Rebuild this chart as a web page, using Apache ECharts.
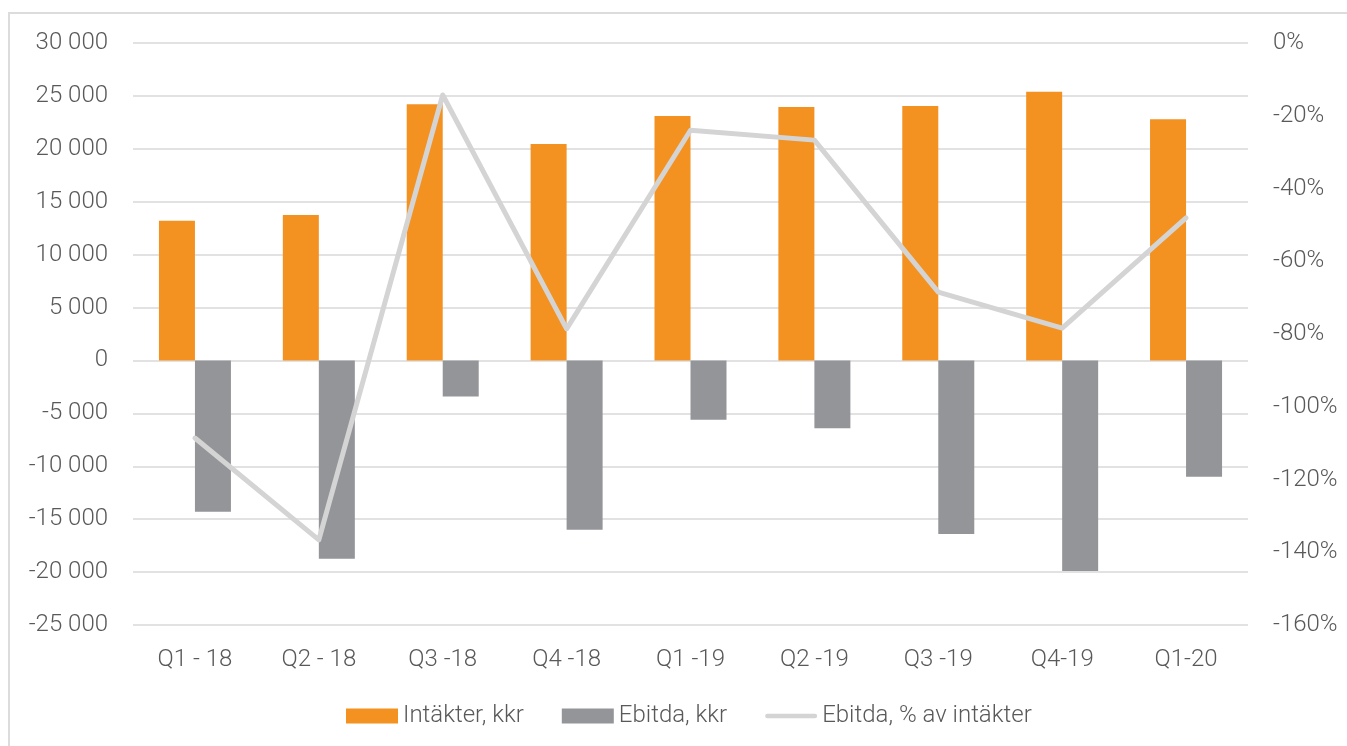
<!DOCTYPE html>
<html>
<head>
<meta charset="utf-8">
<script src="https://cdn.jsdelivr.net/npm/echarts@6/dist/echarts.min.js"></script>
<style>
  html, body { margin: 0; padding: 0; background: #fff; }
  #chart { width: 1347px; height: 746px; }
</style>
</head>
<body>
<div id="chart"></div>
<script>
// kvartal
const categories = ['Q1 - 18', 'Q2 - 18', 'Q3 -18', 'Q4 -18', 'Q1 -19', 'Q2 -19', 'Q3 -19', 'Q4-19', 'Q1-20']
// Intäkter, kkr
const revenue = [13200, 13750, 24200, 20450, 23100, 23950, 24050, 25400, 22800]
// Ebitda, kkr
const ebitda = [-14300, -18750, -3400, -16000, -5600, -6400, -16400, -19900, -11000]
// Ebitda, % av intäkter
const ebitdaPct = [-108.6, -136.6, -14.3, -78.6, -24, -26.7, -68.5, -78.4, -48.1]

const textColor = '#595959'
const gridColor = '#d9d9d9'
const font = 'Roboto'
const fs = 24

const chart = echarts.init(document.getElementById('chart'))

function fmtKkr(v) {
  const s = String(Math.abs(v)).replace(/\B(?=(\d{3})+(?!\d))/g, ' ')
  return (v < 0 ? '-' : '') + s
}

chart.setOption({
  animation: false,
  textStyle: { fontFamily: font, fontWeight: 300 },
  graphic: [{
    type: 'rect',
    shape: { x: 9, y: 13, width: 1400, height: 800 },
    style: { fill: 'none', stroke: '#dcdcdc', lineWidth: 2 },
    silent: true
  }],
  grid: { left: 133, right: 99, top: 43, bottom: 121 },
  legend: {
    bottom: 13,
    left: 341,
    itemWidth: 52,
    itemHeight: 15,
    itemGap: 38,
    textStyle: { color: textColor, fontSize: fs, fontFamily: font, fontWeight: 300 },
    data: [
      { name: 'Intäkter, kkr', icon: 'rect' },
      { name: 'Ebitda, kkr', icon: 'rect' },
      { name: 'Ebitda, % av intäkter', icon: 'path://M2,0 L55,0 A2,2 0 0 1 55,5 L2,5 A2,2 0 0 1 2,0 Z' }
    ]
  },
  xAxis: {
    type: 'category',
    data: categories,
    axisLine: { show: false, onZero: false },
    axisTick: { show: false },
    axisLabel: { color: textColor, fontSize: fs, margin: 23, fontFamily: font, fontWeight: 300 }
  },
  yAxis: [
    {
      type: 'value',
      min: -25000,
      max: 30000,
      interval: 5000,
      axisLine: { show: false },
      axisTick: { show: false },
      splitLine: { lineStyle: { color: gridColor, width: 1.5 } },
      axisLabel: { color: textColor, fontSize: fs, margin: 25, fontFamily: font, fontWeight: 300, formatter: fmtKkr }
    },
    {
      type: 'value',
      min: -160,
      max: 0,
      interval: 20,
      axisLine: { show: false },
      axisTick: { show: false },
      splitLine: { show: false },
      axisLabel: { color: textColor, fontSize: fs, margin: 25, fontFamily: font, fontWeight: 300, formatter: '{value}%' }
    }
  ],
  series: [
    {
      name: 'Intäkter, kkr',
      type: 'bar',
      data: revenue,
      barWidth: 36,
      barGap: '0%',
      itemStyle: { color: '#f39121' }
    },
    {
      name: 'Ebitda, kkr',
      type: 'bar',
      data: ebitda,
      barWidth: 36,
      itemStyle: { color: '#939598' }
    },
    {
      name: 'Ebitda, % av intäkter',
      type: 'line',
      yAxisIndex: 1,
      data: ebitdaPct,
      showSymbol: false,
      symbol: 'none',
      itemStyle: { color: '#d4d4d4' },
      lineStyle: { color: '#d4d4d4', width: 5, cap: 'round', join: 'round' },
      z: 3
    }
  ]
})
</script>
</body>
</html>
